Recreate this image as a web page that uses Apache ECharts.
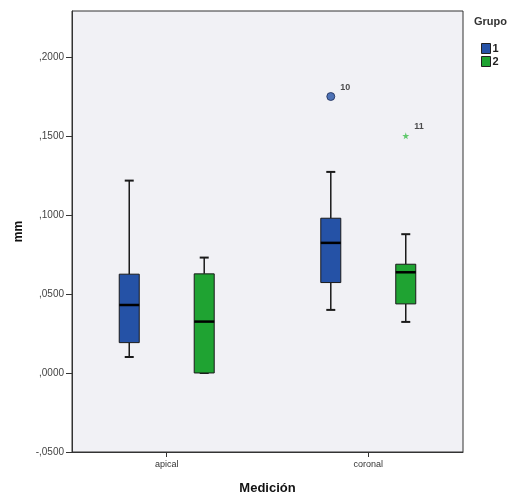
<!DOCTYPE html>
<html>
<head>
<meta charset="utf-8">
<script src="https://cdn.jsdelivr.net/npm/echarts@6/dist/echarts.min.js"></script>
<style>
  html, body { margin: 0; padding: 0; background: #fff; }
  #chart { width: 512px; height: 500px; }
</style>
</head>
<body>
<div id="chart"></div>
<script>
// categories and groups
const categories = ['apical', 'coronal'];
const groups = ['1', '2'];
const groupColors = ['#2552a6', '#1fa332'];

// box stats per group: [min, q1, median, q3, max], one row per category
const grupo1 = [
  [0.0101, 0.0192, 0.0430, 0.0625, 0.1217],
  [0.0399, 0.0572, 0.0823, 0.0979, 0.1272]
];
const grupo2 = [
  [0.0000, 0.0000, 0.0325, 0.0627, 0.0730],
  [0.0323, 0.0437, 0.0637, 0.0688, 0.0878]
];

// outliers: [category index, value, case label]
const outliers1 = [[1, 0.1749, '10']];
const outliers2 = [[1, 0.1500, '11']];

const yTicks = [-0.05, 0, 0.05, 0.1, 0.15, 0.2];

const groupOffset = [-0.186, 0.186]; // box shift from category centre (x units)

const chart = echarts.init(document.getElementById('chart'));

function fmt(v) {
  let s = Math.abs(v).toFixed(4).replace('0.', ',');
  return (v < 0 ? '-' : '') + s;
}

function boxRender(color) {
  return function (params, api) {
    const x = api.value(0);
    const pMin = api.coord([x, api.value(1)]);
    const pQ1 = api.coord([x, api.value(2)]);
    const pMed = api.coord([x, api.value(3)]);
    const pQ3 = api.coord([x, api.value(4)]);
    const pMax = api.coord([x, api.value(5)]);
    const cx = pMed[0];
    const hw = 10;
    const cap = 4.5;
    const dark = '#1a1a1a';
    return {
      type: 'group',
      children: [
        { type: 'line', shape: { x1: cx, y1: pQ3[1], x2: cx, y2: pMax[1] }, style: { stroke: dark, lineWidth: 1.5 } },
        { type: 'line', shape: { x1: cx, y1: pQ1[1], x2: cx, y2: pMin[1] }, style: { stroke: dark, lineWidth: 1.5 } },
        { type: 'line', shape: { x1: cx - cap, y1: pMax[1], x2: cx + cap, y2: pMax[1] }, style: { stroke: dark, lineWidth: 2 } },
        { type: 'line', shape: { x1: cx - cap, y1: pMin[1], x2: cx + cap, y2: pMin[1] }, style: { stroke: dark, lineWidth: 2 } },
        { type: 'rect', shape: { x: cx - hw, y: pQ3[1], width: hw * 2, height: pQ1[1] - pQ3[1] },
          style: { fill: color, stroke: dark, lineWidth: 1 } },
        { type: 'line', shape: { x1: cx - hw, y1: pMed[1], x2: cx + hw, y2: pMed[1] }, style: { stroke: '#000', lineWidth: 2.5 } }
      ]
    };
  };
}

function boxData(rows, g) {
  return rows.map((r, i) => [i + groupOffset[g]].concat(r));
}

function outlierData(rows, g) {
  return rows.map(r => ({ value: [r[0] + groupOffset[g], r[1]], name: r[2] }));
}

const starPath = 'path://M50,0 L61,35 L98,35 L68,57 L79,91 L50,70 L21,91 L32,57 L2,35 L39,35 Z';

const option = {
  backgroundColor: '#fff',
  animation: false,
  grid: {
    left: 72, top: 11, right: 49, bottom: 46,
    show: true, backgroundColor: '#f1f1f5', borderColor: '#333', borderWidth: 1
  },
  legend: {
    orient: 'vertical',
    left: 476, top: 38,
    itemWidth: 9, itemHeight: 10, itemGap: 2,
    data: groups.map((g, i) => ({ name: g, icon: 'rect', itemStyle: { color: groupColors[i], borderColor: '#222', borderWidth: 1 } })),
    textStyle: { fontFamily: 'Liberation Sans, Arial', fontSize: 11, fontWeight: 'bold', color: '#222', padding: [0, 0, 0, -3] }
  },
  title: {
    text: 'Grupo', left: 469, top: 11,
    textStyle: { fontFamily: 'Liberation Sans, Arial', fontSize: 11, fontWeight: 'bold', color: '#333' }
  },
  xAxis: {
    type: 'value', min: -0.47, max: 1.47,
    name: 'Medición', nameLocation: 'middle', nameGap: 30,
    nameTextStyle: { fontFamily: 'Liberation Sans, Arial', fontSize: 13, fontWeight: 'bold', color: '#111' },
    axisLine: { show: true, onZero: false, lineStyle: { color: '#333', width: 1 } },
    axisTick: { show: true, length: 5, customValues: [0, 1], lineStyle: { color: '#333' } },
    axisLabel: {
      customValues: [0, 1], margin: 8,
      fontFamily: 'Liberation Sans, Arial', fontSize: 9, color: '#333',
      formatter: v => categories[Math.round(v)]
    },
    splitLine: { show: false }
  },
  yAxis: {
    type: 'value', min: -0.05, max: 0.229,
    name: 'mm', nameLocation: 'middle', nameGap: 47, nameRotate: 90,
    nameTextStyle: { fontFamily: 'Liberation Sans, Arial', fontSize: 12, fontWeight: 'bold', color: '#111' },
    axisLine: { show: true, onZero: false, lineStyle: { color: '#333', width: 1 } },
    axisTick: { show: true, length: 6, customValues: yTicks, lineStyle: { color: '#333' } },
    axisLabel: {
      customValues: yTicks, margin: 8,
      fontFamily: 'Liberation Sans, Arial', fontSize: 10, color: '#444',
      formatter: fmt
    },
    splitLine: { show: false }
  },
  series: [
    { name: groups[0], type: 'custom', itemStyle: { color: groupColors[0] },
      renderItem: boxRender(groupColors[0]), encode: { x: 0, y: [1, 2, 3, 4, 5] }, data: boxData(grupo1, 0) },
    { name: groups[1], type: 'custom', itemStyle: { color: groupColors[1] },
      renderItem: boxRender(groupColors[1]), encode: { x: 0, y: [1, 2, 3, 4, 5] }, data: boxData(grupo2, 1) },
    { name: groups[0], type: 'scatter', symbol: 'circle', symbolSize: 8,
      itemStyle: { color: groupColors[0], borderColor: '#1a2a55', borderWidth: 1 },
      label: { show: true, formatter: '{b}', position: 'right', offset: [0, -9],
        fontFamily: 'Liberation Sans, Arial', fontSize: 9, fontWeight: 'bold', color: '#222' },
      data: outlierData(outliers1, 0) },
    { name: groups[1], type: 'scatter', symbol: starPath, symbolSize: 7,
      itemStyle: { color: '#3cbf4a' },
      label: { show: true, formatter: '{b}', position: 'right', offset: [0, -9],
        fontFamily: 'Liberation Sans, Arial', fontSize: 9, fontWeight: 'bold', color: '#222' },
      data: outlierData(outliers2, 1) }
  ]
};

chart.setOption(option);
</script>
</body>
</html>
